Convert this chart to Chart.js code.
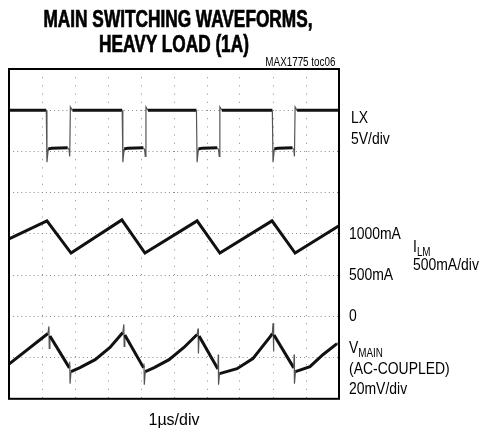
<!DOCTYPE html>
<html>
<head>
<meta charset="utf-8">
<script src="https://cdn.jsdelivr.net/npm/chart.js@4.4.1/dist/chart.umd.min.js"></script>
<style>
    html, body { margin: 0; padding: 0; background: #fff; }
    #wrap { position: relative; width: 483px; height: 431px; font-family: "Liberation Sans", Arial, sans-serif; color: #000; }
    #wrap canvas { position: absolute; left: 0; top: 0; }
    .lbl { position: absolute; font-size: 17px; line-height: 1; white-space: nowrap; transform-origin: left center; transform: translateY(-50%) scaleX(0.82); }
    .lbl.r { transform-origin: right center; }
    .title { position: absolute; left: 0; width: 348px; text-align: center; font-weight: bold; font-size: 23px; line-height: 1; white-space: nowrap; -webkit-text-stroke: 0.7px #000; transform-origin: center center; transform: translateY(-50%) scaleX(0.75); }
    .sub { font-size: 12px; position: relative; top: 4px; }
</style>
</head>
<body>
<div id="wrap">
    <canvas id="scope" width="483" height="431"></canvas>
    <div class="title" style="top:19px">MAIN SWITCHING WAVEFORMS,</div>
    <div class="title" style="top:44px">HEAVY LOAD (1A)</div>
    <div class="lbl r" style="right:148px; top:62px; font-size:12px">MAX1775 toc06</div>
    <div class="lbl" style="left:351px; top:117px">LX</div>
    <div class="lbl" style="left:351px; top:138px">5V/div</div>
    <div class="lbl" style="left:349px; top:233px">1000mA</div>
    <div class="lbl" style="left:413px; top:246px">I<span class="sub">LM</span></div>
    <div class="lbl" style="left:413px; top:264px">500mA/div</div>
    <div class="lbl" style="left:349px; top:274px">500mA</div>
    <div class="lbl" style="left:349px; top:315px">0</div>
    <div class="lbl" style="left:349px; top:347px">V<span class="sub">MAIN</span></div>
    <div class="lbl" style="left:349px; top:368px">(AC-COUPLED)</div>
    <div class="lbl" style="left:349px; top:388px">20mV/div</div>
</div>
<script>
// time base: 1us/div, 10 divisions
const xTicks = [0, 1, 2, 3, 4, 5, 6, 7, 8, 9, 10];

// LX switching node (V), 5V/div
const lxTime = [0, 1.13, 1.15, 1.19, 1.3, 1.78, 1.82, 1.84, 1.86, 1.92,
    3.43, 3.45, 3.49, 3.6, 4.07, 4.11, 4.13, 4.15, 4.21,
    5.68, 5.70, 5.74, 5.85, 6.31, 6.35, 6.37, 6.39, 6.45,
    7.98, 8.0, 8.04, 8.15, 8.59, 8.63, 8.65, 8.67, 8.73, 10];
const lxVolts = [5.0, 5.0, -1.3, 0.3, 0.4, 0.45, 0.2, -0.6, 5.4, 5.0,
    5.0, -1.3, 0.3, 0.4, 0.45, 0.2, -0.6, 5.4, 5.0,
    5.0, -1.3, 0.3, 0.4, 0.45, 0.2, -0.6, 5.4, 5.0,
    5.0, -1.3, 0.3, 0.4, 0.45, 0.2, -0.6, 5.4, 5.0, 5.0];

// inductor current ILM (mA), 500mA/div
const ilTime = [0, 1.15, 1.88, 3.42, 4.12, 5.70, 6.39, 7.97, 8.67, 10];
const ilMa = [939, 1158, 768, 1170, 768, 1158, 768, 1158, 768, 1100];

// output ripple VMAIN (mV, AC-coupled), 20mV/div
const vmTime = [0, 1.18, 1.21, 1.22, 1.24, 1.83, 1.84, 1.85, 1.88, 2.15, 2.61, 3.06, 3.45,
    3.48, 3.49, 3.51, 4.08, 4.09, 4.10, 4.13, 4.4, 4.85, 5.3, 5.70,
    5.73, 5.74, 5.76, 6.33, 6.34, 6.35, 6.38, 6.91, 7.39, 7.91, 7.98,
    8.0, 8.01, 8.03, 8.63, 8.64, 8.65, 8.68, 9.12, 9.52, 9.94, 10];
const vmMv = [-3.2, 11.7, 15.1, 4.5, 10.5, -5.0, -2.0, -12.7, -6.8, -4.9, -1.0, 4.9, 12.2,
    16.1, 5.4, 11.0, -5.0, -2.9, -13.2, -6.8, -4.9, -1.0, 4.9, 11.2,
    14.1, 2.0, 10.5, -5.5, 1.5, -13.2, -7.8, -5.4, -0.5, 10.0, 11.7,
    16.6, 2.9, 11.0, -5.0, 1.5, -12.7, -6.8, -4.4, 1.5, 6.8, 7.3];

function toPoints(xs, ys) {
    return xs.map((x, i) => ({ x: x, y: ys[i] }));
}

// thin grey edges where the trace is nearly vertical
const traceSegment = {
    borderWidth: ctx => Math.abs(ctx.p1.x - ctx.p0.x) < 2 ? 1.2 : 3,
    borderColor: ctx => Math.abs(ctx.p1.x - ctx.p0.x) < 2 ? '#555' : '#111',
};

const framePlugin = {
    id: 'frame',
    afterDraw(chart) {
        const a = chart.chartArea;
        const c = chart.ctx;
        c.save();
        c.strokeStyle = '#000';
        c.lineWidth = 2;
        c.strokeRect(a.left, a.top, a.right - a.left, a.bottom - a.top);
        c.restore();
    }
};

function makeTrace(xs, ys, axis) {
    return {
        data: toPoints(xs, ys),
        yAxisID: axis,
        borderColor: '#111',
        borderWidth: 3,
        pointRadius: 0,
        tension: 0,
        segment: traceSegment,
    };
}

new Chart(document.getElementById('scope'), {
    type: 'line',
    data: {
        datasets: [
            makeTrace(lxTime, lxVolts, 'lx'),
            makeTrace(ilTime, ilMa, 'ma'),
            makeTrace(vmTime, vmMv, 'mv'),
        ]
    },
    options: {
        responsive: false,
        animation: false,
        layout: { padding: { left: 9, right: 144, top: 69, bottom: 1 } },
        plugins: { legend: { display: false }, tooltip: { enabled: false } },
        scales: {
            x: {
                type: 'linear',
                min: 0,
                max: 10,
                afterBuildTicks: scale => { scale.ticks = xTicks.map(v => ({ value: v })); },
                ticks: { display: false },
                grid: { color: '#8a8a8a', lineWidth: 1, drawTicks: false },
                border: { display: false, dash: [1, 7.2] },
                title: {
                    display: true,
                    text: '1\u00b5s/div',
                    color: '#000',
                    font: { family: '"Liberation Sans Narrow", "Liberation Sans", sans-serif', size: 16 },
                    padding: { top: 12, bottom: 0 },
                },
            },
            ma: {
                type: 'linear',
                position: 'left',
                min: -1000,
                max: 3000,
                ticks: { display: false, stepSize: 500 },
                grid: { color: '#8a8a8a', lineWidth: 1, drawTicks: false },
                border: { display: false, dash: [1, 3.1] },
            },
            lx: { type: 'linear', display: false, min: -30, max: 10 },
            mv: { type: 'linear', display: false, min: -20, max: 140 },
        }
    },
    plugins: [framePlugin]
});
</script>
</body>
</html>
